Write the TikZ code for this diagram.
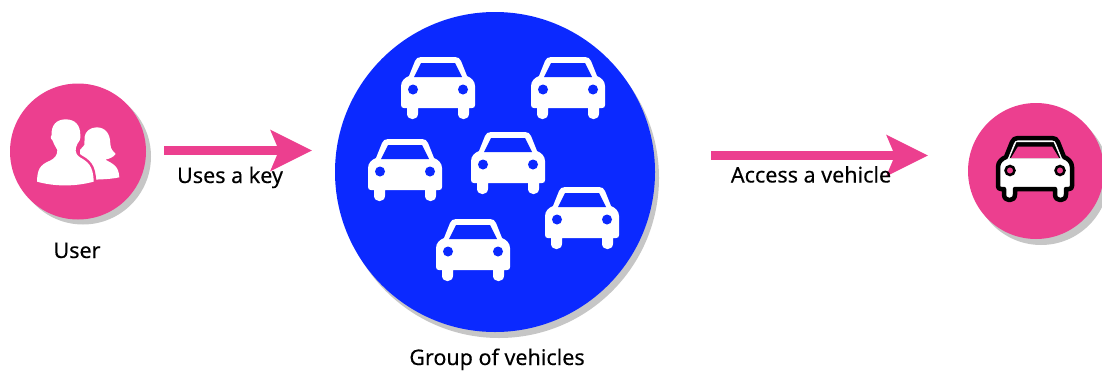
\documentclass[tikz,border=0pt]{standalone}
\usepackage{fontspec}
\setmainfont[FakeBold=0.25]{Noto Sans}
\usetikzlibrary{arrows.meta}
\definecolor{pinkc}{HTML}{EC3F8F}
\definecolor{bluec}{HTML}{0B29FF}
\definecolor{shadowc}{HTML}{C6C6C6}
\newcommand{\carbody}{(-17,-31) -- (17,-31) .. controls (20,-31) and (22,-29.5) .. (23,-27) -- (29,-12)
 .. controls (33,-10.5) and (37,-7) .. (37,-2) -- (37,17) .. controls (37,19) and (36,20) .. (34,20) -- (31,20) -- (31,25.5)
 .. controls (31,33) and (20,33) .. (20,25.5) -- (20,20) -- (-20,20) -- (-20,25.5)
 .. controls (-20,33) and (-31,33) .. (-31,25.5) -- (-31,20) -- (-34,20) .. controls (-36,20) and (-37,19) .. (-37,17)
 -- (-37,-2) .. controls (-37,-7) and (-33,-10.5) .. (-29,-12) -- (-23,-27) .. controls (-22,-29.5) and (-20,-31) .. (-17,-31) -- cycle}
\tikzset{
  x=1pt,y=-1pt,
  disc/.style={circle,fill=#1,draw=none,inner sep=0pt},
  lbl/.style={font=\fontsize{21.5}{25}\selectfont,text=black,inner sep=0pt,anchor=base},
  bigarrow/.style={draw=pinkc,line width=9pt,-{Stealth[length=41pt,width=40pt,inset=8pt,fill=pinkc]}},
  whitecar/.pic={
    \fill[white] \carbody;
    \fill[bluec] (-17,-25) -- (17,-25) -- (24,-11) -- (-24,-11) -- cycle;
    \fill[bluec] (-25,1.5) circle (5) (25,1.5) circle (5);
  },
  blackcar/.pic={
    \draw[black,line width=4.5pt,fill=white,line join=round] \carbody;
    \draw[white,line width=1pt,fill=black] (-26,-11) -- (-19,-27.5) -- (19,-27.5) -- (26,-11);
    \fill[pinkc] (-17,-22.5) -- (17,-22.5) -- (24,-11) -- (-24,-11) -- cycle;
    \draw[black,line width=2.5pt,fill=pinkc] (-25,1.5) circle (4.5) (25,1.5) circle (4.5);
  }
}
\begin{document}
\begin{tikzpicture}
\useasboundingbox (0,0) rectangle (1102,370);
\clip (0,0) rectangle (1102,370);
% shadows
\fill[shadowc] (83,156.5) circle (68);
\fill[shadowc] (499,178) circle (160);
\fill[shadowc] (1041,177) circle (68);
% discs
\node[disc=pinkc,minimum size=136pt] (user) at (78,151.5) {};
\node[disc=bluec,minimum size=320pt] (group) at (495,172) {};
\node[disc=pinkc,minimum size=136pt] (vehicle) at (1036,171) {};
% user icon
\begin{scope}[shift={(0,70)},scale=1/3]
  \fill[white] (290,172) .. controls (315,172) and (331,190) .. (331,222) .. controls (332,238) and (340,245) .. (347,252)
    .. controls (340,262) and (328,266) .. (316,269) .. controls (340,282) and (356,288) .. (358,322)
    .. controls (335,327) and (310,328) .. (280,329) -- (240,280) -- (240,240) -- (253,225) -- (254,200)
    .. controls (256,185) and (270,172) .. (290,172) -- cycle;
  \def\frontman{(197,148) .. controls (225,148) and (241,165) .. (241,195) .. controls (242,208) and (238,215) .. (232,222)
    .. controls (226,235) and (222,250) .. (240,262) .. controls (262,275) and (280,285) .. (281,335)
    .. controls (225,350) and (165,350) .. (111,335) .. controls (112,300) and (118,285) .. (150,272)
    .. controls (165,265) and (172,255) .. (172,240) .. controls (165,228) and (160,218) .. (158,212)
    .. controls (150,205) and (152,195) .. (155,195) .. controls (153,165) and (170,148) .. (197,148) -- cycle}
  \draw[pinkc,line width=5pt,line join=round] \frontman;
  \fill[white] \frontman;
\end{scope}
% cars
\pic at (438,88) {whitecar};
\pic at (568,88) {whitecar};
\pic at (405,170) {whitecar};
\pic at (508,163) {whitecar};
\pic at (582,218) {whitecar};
\pic at (473,250) {whitecar};
\pic at (1035,169) {blackcar};
% arrows
\coordinate (a1s) at (164,150.5);
\coordinate (a1e) at (312,150.5);
\coordinate (a2s) at (711,155.5);
\coordinate (a2e) at (928,155.5);
\draw[bigarrow] (a1s) -- (a1e);
\draw[bigarrow] (a2s) -- (a2e);
% labels
\node[lbl] (t1) at (230,183) {Uses a key};
\node[lbl] (t2) at (77,258) {User};
\node[lbl] (t3) at (811,182.5) {Access a vehicle};
\node[lbl] (t4) at (497,365) {Group of vehicles};
\end{tikzpicture}
\end{document}
